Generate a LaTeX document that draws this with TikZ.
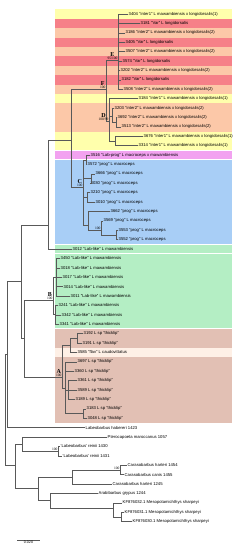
\documentclass[tikz,border=0pt]{standalone}
\usepackage{fontspec}
\setmainfont{Liberation Sans}
\newfontfamily\suppfont{Liberation Serif}
\usetikzlibrary{positioning}

\definecolor{bandyellow}{RGB}{255,255,172}
\definecolor{bandred}{RGB}{246,128,136}
\definecolor{bandpeach}{RGB}{252,200,168}
\definecolor{bandpink}{RGB}{242,162,240}
\definecolor{bandblue}{RGB}{168,206,246}
\definecolor{bandgreen}{RGB}{180,238,196}
\definecolor{bandbrown}{RGB}{226,192,180}
\definecolor{bandcream}{RGB}{254,240,230}

\tikzset{
  taxon/.style={anchor=west, inner sep=0.5pt, font=\fontsize{4.2}{4.5}\selectfont},
  branch/.style={draw=black!65, line width=0.35pt},
  supp/.style={font=\suppfont\fontsize{3.6}{3.8}\selectfont, inner sep=0.3pt, anchor=south east},
  cladelab/.style={font=\suppfont\bfseries\fontsize{6}{6}\selectfont, inner sep=0.2pt}
}

% leaf y position (px)
\newcommand{\ly}[1]{14+(#1-1)*9.4}
\newcommand{\band}[4]{\fill[#3] (55,{\ly{#1}-4.7+#4}) rectangle (232,{\ly{#2}+4.7-#4});}

\begin{document}
\begin{tikzpicture}[x=1pt, y=-1pt]
  \useasboundingbox (0,0) rectangle (240,550);

  % --- colour bands ---
  \band{1}{1}{bandyellow}{0}
  \foreach \k in {2,4,6,8} {\band{\k}{\k}{bandred}{0}}
  \foreach \k in {3,5,7,9} {\band{\k}{\k}{bandpeach}{0}}
  \band{10}{10}{bandyellow}{0}
  \band{11}{13}{bandpeach}{0}
  \band{14}{15}{bandyellow}{0}
  \band{16}{16}{bandpink}{0.8}
  \band{17}{25}{bandblue}{0}
  \band{26}{26}{bandgreen}{1}
  \band{27}{34}{bandgreen}{0.5}
  \band{35}{36}{bandbrown}{0}
  \band{37}{37}{bandcream}{0}
  \band{38}{44}{bandbrown}{0}

  % --- taxa ---
  \foreach \i/\x/\t in {
    1/128/{3404 "inter1" L mawambiensis x longidorsalis(1)},
    2/140/{3181 "Var" L longidorsalis},
    3/125/{3186 "inter2" L mawambiensis x longidorsalis(2)},
    4/125/{3405 "Var" L longidorsalis},
    5/125/{3507 "inter2" L mawambiensis x longidorsalis(2)},
    6/122/{3574 "Var" L longidorsalis},
    7/120/{3202 "inter2" L mawambiensis x longidorsalis(2)},
    8/121/{3182 "Var" L longidorsalis},
    9/123/{3508 "inter2" L mawambiensis x longidorsalis(2)},
    10/138/{3184 "inter1" L mawambiensis x longidorsalis(1)},
    11/114/{3203 "inter2" L mawambiensis x longidorsalis(2)},
    12/117/{3692 "inter2" L mawambiensis x longidorsalis(2)},
    13/121/{3513 "inter2" L mawambiensis x longidorsalis(2)},
    14/143/{3676 "inter1" L mawambiensis x longidorsalis(1)},
    15/138/{3314 "inter1" L mawambiensis x longidorsalis(1)},
    16/90/{3516 "Lab-prog" L macroceps x mawambiensis},
    17/87/{3572 "prog" L macroceps},
    18/95/{3666 "prog" L macroceps},
    19/90/{3030 "prog" L macroceps},
    20/90/{3210 "prog" L macroceps},
    21/95/{3010 "prog" L macroceps},
    22/110/{3662 "prog" L macroceps},
    23/103/{3569 "prog" L macroceps},
    24/118/{3553 "prog" L macroceps},
    25/118/{3552 "prog" L macroceps},
    26/72/{3012 "Lab-like" L mawambiensis},
    27/60/{3450 "Lab-like" L mawambiensis},
    28/60/{3018 "Lab-like" L mawambiensis},
    29/62/{3017 "Lab-like" L mawambiensis},
    30/63/{3014 "Lab-like" L mawambiensis},
    31/70/{3011 "Lab-like" L mawambiensis},
    32/58/{3241 "Lab-like" L mawambiensis},
    33/61/{3342 "Lab-like" L mawambiensis},
    34/59/{3341 "Lab-like" L mawambiensis},
    35/83/{3192 L sp "thicklip"},
    36/82/{3191 L sp "thicklip"},
    37/77/{3585 "flav" L caudovittatus},
    38/77/{3697 L sp "thicklip"},
    39/74/{3360 L sp "thicklip"},
    40/77/{3361 L sp "thicklip"},
    41/77/{3589 L sp "thicklip"},
    42/75/{3189 L sp "thicklip"},
    43/86/{3183 L sp "thicklip"},
    44/87/{3048 L sp "thicklip"},
    45/85/{Labeobarbus habereri 1423},
    46/107/{Pterocapoeta maroccanus 1057},
    47/60/{'Labeobarbus' reinii 1430},
    48/62/{'Labeobarbus' reinii 1431},
    49/127/{Carasobarbus harteri 1454},
    50/124/{Carasobarbus canis 1455},
    51/112/{Carasobarbus harteri 1245},
    52/98/{Arabibarbus grypus 1244},
    53/122/{KF876032.1 Mesopotamichthys sharpeyi},
    54/124/{KF876031.1 Mesopotamichthys sharpeyi},
    55/132/{KF876030.1 Mesopotamichthys sharpeyi}}
    \node[taxon] (l\i) at (\x,{\ly{\i}}) {\t};

  % --- internal nodes ---
  \coordinate (nE)  at (118,60);
  \coordinate (nD)  at (109,121);
  \coordinate (nD1) at (112,116);
  \coordinate (nD3) at (116,122);
  \coordinate (nD2) at (115,141);
  \coordinate (nF)  at (106,89);
  \coordinate (nC)  at (83,187);
  \coordinate (nC1) at (86,160);
  \coordinate (nC2) at (91,178);
  \coordinate (nC3) at (87,197);
  \coordinate (nC4) at (88,225);
  \coordinate (nC5) at (101,230);
  \coordinate (nC6) at (116,235);
  \coordinate (nFC) at (71,140);
  \coordinate (nG)  at (48,225);
  \coordinate (nB)  at (53,300);
  \coordinate (nB1) at (56,277);
  \coordinate (nB2) at (55,314);
  \coordinate (nA)  at (62,377);
  \coordinate (nA1) at (70,345);
  \coordinate (nA2) at (77,338);
  \coordinate (nA3) at (65,388);
  \coordinate (nA4) at (68,390);
  \coordinate (nA5) at (83,413);
  \coordinate (nI)  at (24,338);
  \coordinate (nH)  at (21,281);
  \coordinate (nLab) at (7,354);
  \coordinate (nRoot) at (5,410);
  \coordinate (nRest) at (15,465);
  \coordinate (nP)  at (22,444);
  \coordinate (nRe) at (58,451);
  \coordinate (nQ)  at (38,488);
  \coordinate (nCar) at (72,477);
  \coordinate (nCar2) at (120,470);
  \coordinate (nS)  at (50,500);
  \coordinate (nMes) at (113,508);
  \coordinate (nMes2) at (121,517);

  % --- branches ---
  \foreach \k in {1,...,9} {\draw[branch] (nE) |- (l\k.west);}
  \draw[branch] (nD) |- (l10.west);
  \draw[branch] (nD) |- (nD1);
  \draw[branch] (nD) |- (nD2);
  \draw[branch] (nD1) |- (l11.west);
  \draw[branch] (nD1) |- (nD3);
  \draw[branch] (nD3) |- (l12.west);
  \draw[branch] (nD3) |- (l13.west);
  \draw[branch] (nD2) |- (l14.west);
  \draw[branch] (nD2) |- (l15.west);
  \draw[branch] (nF) |- (nE);
  \draw[branch] (nF) |- (nD);
  \draw[branch] (nC1) |- (l16.west);
  \draw[branch] (nC1) |- (l17.west);
  \draw[branch] (nC2) |- (l18.west);
  \draw[branch] (nC2) |- (l19.west);
  \draw[branch] (nC3) |- (l20.west);
  \draw[branch] (nC3) |- (l21.west);
  \draw[branch] (nC6) |- (l24.west);
  \draw[branch] (nC6) |- (l25.west);
  \draw[branch] (nC5) |- (l23.west);
  \draw[branch] (nC5) |- (nC6);
  \draw[branch] (nC4) |- (l22.west);
  \draw[branch] (nC4) |- (nC5);
  \foreach \c in {nC1,nC2,nC3,nC4} {\draw[branch] (nC) |- (\c);}
  \draw[branch] (nFC) |- (nF);
  \draw[branch] (nFC) |- (nC);
  \draw[branch] (nG) |- (nFC);
  \draw[branch] (nG) |- (l26.west);
  \foreach \k in {27,...,31} {\draw[branch] (nB1) |- (l\k.west);}
  \foreach \k in {32,33,34} {\draw[branch] (nB2) |- (l\k.west);}
  \draw[branch] (nB) |- (nB1);
  \draw[branch] (nB) |- (nB2);
  \draw[branch] (nA2) |- (l35.west);
  \draw[branch] (nA2) |- (l36.west);
  \draw[branch] (nA1) |- (nA2);
  \draw[branch] (nA1) |- (l37.west);
  \draw[branch] (nA3) |- (l38.west);
  \draw[branch] (nA3) |- (l39.west);
  \draw[branch] (nA3) |- (nA4);
  \draw[branch] (nA3) |- (nA5);
  \foreach \k in {40,41,42} {\draw[branch] (nA4) |- (l\k.west);}
  \draw[branch] (nA5) |- (l43.west);
  \draw[branch] (nA5) |- (l44.west);
  \draw[branch] (nA) |- (nA1);
  \draw[branch] (nA) |- (nA3);
  \draw[branch] (nI) |- (nB);
  \draw[branch] (nI) |- (nA);
  \draw[branch] (nH) |- (nG);
  \draw[branch] (nH) |- (nI);
  \draw[branch] (nLab) |- (nH);
  \draw[branch] (nLab) |- (l45.west);
  \draw[branch] (nRoot) |- (nLab);
  \draw[branch] (nRoot) |- (nRest);
  \draw[branch] (nRest) |- (nP);
  \draw[branch] (nRest) |- (nQ);
  \draw[branch] (nP) |- (l46.west);
  \draw[branch] (nP) |- (nRe);
  \draw[branch] (nRe) |- (l47.west);
  \draw[branch] (nRe) |- (l48.west);
  \draw[branch] (nQ) |- (nCar);
  \draw[branch] (nQ) |- (nS);
  \draw[branch] (nCar2) |- (l49.west);
  \draw[branch] (nCar2) |- (l50.west);
  \draw[branch] (nCar) |- (nCar2);
  \draw[branch] (nCar) |- (l51.west);
  \draw[branch] (nS) |- (l52.west);
  \draw[branch] (nS) |- (nMes);
  \draw[branch] (nMes) |- (l53.west);
  \draw[branch] (nMes) |- (nMes2);
  \draw[branch] (nMes2) |- (l54.west);
  \draw[branch] (nMes2) |- (l55.west);

  % --- clade labels and support (above the stem) ---
  \node[supp] (sE) at (nE) {95/100};
  \node[cladelab, above=0pt of sE] {E};
  \node[supp] (sF) at (nF) {100};
  \node[cladelab, above=0pt of sF] {F};
  \node[supp] (sD) at (nD) {100/99};
  \node[cladelab, above=0pt of sD] {D};
  \node[supp] (sC) at (nC) {100};
  \node[cladelab, above=0pt of sC] {C};
  \node[supp] (sB) at (nB) {100};
  \node[cladelab, above=0pt of sB] {B};
  \node[supp] (sA) at (nA) {100};
  \node[cladelab, above=0pt of sA] {A};
  \node[supp] (sC5) at (nC5) {100};
  \node[supp] (sRe) at (nRe) {100};
  \node[supp] (sCar) at (nCar2) {100};

  % --- scale bar ---
  \coordinate (sb1) at (17,540);
  \coordinate (sb2) at (40,540);
  \draw[branch] (sb1) -- (sb2) node[midway, below=0.6pt, font=\fontsize{3.6}{4}\selectfont, inner sep=0.3pt] {0.020};
\end{tikzpicture}
\end{document}
